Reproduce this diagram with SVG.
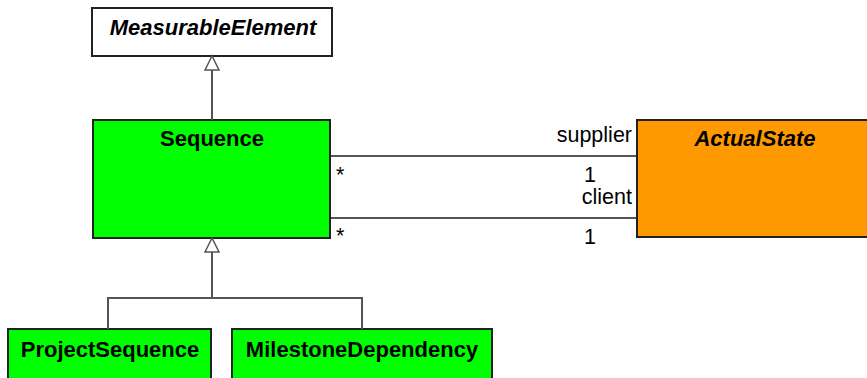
<svg xmlns="http://www.w3.org/2000/svg" width="867" height="378" viewBox="0 0 867 378">
<style>
.box{stroke:#222;stroke-width:2}
.t{font-family:"Liberation Sans",Arial,sans-serif;font-weight:bold;font-size:22px;text-anchor:middle;fill:#000}
.i{font-style:italic}
.l{font-family:"Liberation Sans",Arial,sans-serif;font-size:21.5px;fill:#000}
.c{stroke:#555;stroke-width:2;fill:none}
.tri{stroke:#555;stroke-width:1.5;fill:#fff}
</style>
<rect width="867" height="378" fill="#fff"/>
<g id="MeasurableElement"><rect class="box" x="92" y="8" width="240" height="48" fill="#fff"/><text class="t i" x="213" y="35">MeasurableElement</text></g>
<g id="Sequence"><rect class="box" x="93" y="120" width="237" height="118" fill="#00ff00"/><text class="t" x="212" y="146">Sequence</text></g>
<g id="ActualState"><rect class="box" x="637" y="120" width="232" height="117" fill="#ff9900"/><text class="t i" x="755" y="146">ActualState</text></g>
<g id="ProjectSequence"><rect class="box" x="8" y="329" width="203" height="52" fill="#00ff00"/><text class="t" x="110" y="357">ProjectSequence</text></g>
<g id="MilestoneDependency"><rect class="box" x="232" y="329" width="260" height="52" fill="#00ff00"/><text class="t" x="362" y="357">MilestoneDependency</text></g>
<g id="connectors">
<line class="c" x1="212" y1="120" x2="212" y2="70"/>
<polygon class="tri" points="212,56 205,70 219,70"/>
<path class="c" d="M108,329 V298 H362 V329 M212,298 V252"/>
<polygon class="tri" points="212,238 205,252 219,252"/>
<line class="c" x1="331" y1="156" x2="636" y2="156"/>
<line class="c" x1="331" y1="218" x2="636" y2="218"/>
<text class="l" x="632" y="142" text-anchor="end">supplier</text>
<text class="l" x="336" y="182">*</text>
<text class="l" x="590" y="182" text-anchor="middle">1</text>
<text class="l" x="632" y="204" text-anchor="end">client</text>
<text class="l" x="336" y="243">*</text>
<text class="l" x="590" y="244" text-anchor="middle">1</text>
</g>
</svg>
